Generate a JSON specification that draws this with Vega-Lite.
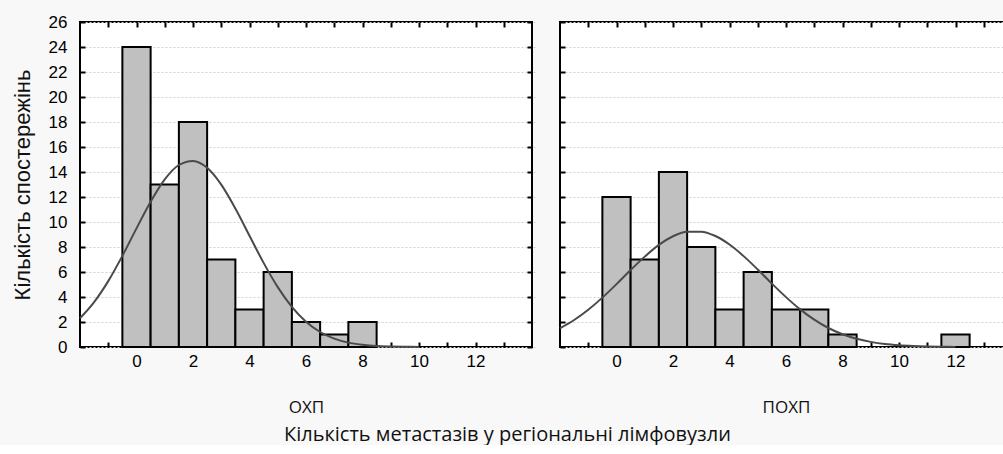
{
  "$schema": "https://vega.github.io/schema/vega-lite/v6.json",
  "padding": {"left": 10, "top": 12, "right": 0, "bottom": 0},
  "background": "#f8f8f8",
  "bounds": "flush",
  "spacing": 28,
  "datasets": {
    "bars": [
      {"panel": "ОХП", "lo": -0.5, "hi": 0.5, "count": 24},
      {"panel": "ОХП", "lo": 0.5, "hi": 1.5, "count": 13},
      {"panel": "ОХП", "lo": 1.5, "hi": 2.5, "count": 18},
      {"panel": "ОХП", "lo": 2.5, "hi": 3.5, "count": 7},
      {"panel": "ОХП", "lo": 3.5, "hi": 4.5, "count": 3},
      {"panel": "ОХП", "lo": 4.5, "hi": 5.5, "count": 6},
      {"panel": "ОХП", "lo": 5.5, "hi": 6.5, "count": 2},
      {"panel": "ОХП", "lo": 6.5, "hi": 7.5, "count": 1},
      {"panel": "ОХП", "lo": 7.5, "hi": 8.5, "count": 2},
      {"panel": "ПОХП", "lo": -0.5, "hi": 0.5, "count": 12},
      {"panel": "ПОХП", "lo": 0.5, "hi": 1.5, "count": 7},
      {"panel": "ПОХП", "lo": 1.5, "hi": 2.5, "count": 14},
      {"panel": "ПОХП", "lo": 2.5, "hi": 3.5, "count": 8},
      {"panel": "ПОХП", "lo": 3.5, "hi": 4.5, "count": 3},
      {"panel": "ПОХП", "lo": 4.5, "hi": 5.5, "count": 6},
      {"panel": "ПОХП", "lo": 5.5, "hi": 6.5, "count": 3},
      {"panel": "ПОХП", "lo": 6.5, "hi": 7.5, "count": 3},
      {"panel": "ПОХП", "lo": 7.5, "hi": 8.5, "count": 1},
      {"panel": "ПОХП", "lo": 11.5, "hi": 12.5, "count": 1}
    ],
    "curve": [
      {"panel": "ОХП", "x": -2, "y": 2.30},
      {"panel": "ОХП", "x": -1.5, "y": 3.59},
      {"panel": "ОХП", "x": -1, "y": 5.27},
      {"panel": "ОХП", "x": -0.5, "y": 7.29},
      {"panel": "ОХП", "x": 0, "y": 9.49},
      {"panel": "ОХП", "x": 0.5, "y": 11.62},
      {"panel": "ОХП", "x": 1, "y": 13.41},
      {"panel": "ОХП", "x": 1.5, "y": 14.56},
      {"panel": "ОХП", "x": 2, "y": 14.89},
      {"panel": "ОХП", "x": 2.5, "y": 14.34},
      {"panel": "ОХП", "x": 3, "y": 12.99},
      {"panel": "ОХП", "x": 3.5, "y": 11.08},
      {"panel": "ОХП", "x": 4, "y": 8.90},
      {"panel": "ОХП", "x": 4.5, "y": 6.73},
      {"panel": "ОХП", "x": 5, "y": 4.79},
      {"panel": "ОХП", "x": 5.5, "y": 3.21},
      {"panel": "ОХП", "x": 6, "y": 2.02},
      {"panel": "ОХП", "x": 6.5, "y": 1.20},
      {"panel": "ОХП", "x": 7, "y": 0.67},
      {"panel": "ОХП", "x": 7.5, "y": 0.35},
      {"panel": "ОХП", "x": 8, "y": 0.18},
      {"panel": "ОХП", "x": 8.5, "y": 0.08},
      {"panel": "ОХП", "x": 9, "y": 0.04},
      {"panel": "ОХП", "x": 9.5, "y": 0.02},
      {"panel": "ОХП", "x": 10, "y": 0.01},
      {"panel": "ПОХП", "x": -2, "y": 1.50},
      {"panel": "ПОХП", "x": -1.5, "y": 2.16},
      {"panel": "ПОХП", "x": -1, "y": 2.98},
      {"panel": "ПОХП", "x": -0.5, "y": 3.95},
      {"panel": "ПОХП", "x": 0, "y": 5.03},
      {"panel": "ПОХП", "x": 0.5, "y": 6.16},
      {"panel": "ПОХП", "x": 1, "y": 7.23},
      {"panel": "ПОХП", "x": 1.5, "y": 8.17},
      {"panel": "ПОХП", "x": 2, "y": 8.86},
      {"panel": "ПОХП", "x": 2.5, "y": 9.23},
      {"panel": "ПОХП", "x": 3, "y": 9.23},
      {"panel": "ПОХП", "x": 3.5, "y": 8.88},
      {"panel": "ПОХП", "x": 4, "y": 8.20},
      {"panel": "ПОХП", "x": 4.5, "y": 7.27},
      {"panel": "ПОХП", "x": 5, "y": 6.20},
      {"panel": "ПОХП", "x": 5.5, "y": 5.07},
      {"panel": "ПОХП", "x": 6, "y": 3.99},
      {"panel": "ПОХП", "x": 6.5, "y": 3.01},
      {"panel": "ПОХП", "x": 7, "y": 2.19},
      {"panel": "ПОХП", "x": 7.5, "y": 1.52},
      {"panel": "ПОХП", "x": 8, "y": 1.02},
      {"panel": "ПОХП", "x": 8.5, "y": 0.66},
      {"panel": "ПОХП", "x": 9, "y": 0.41},
      {"panel": "ПОХП", "x": 9.5, "y": 0.24},
      {"panel": "ПОХП", "x": 10, "y": 0.14},
      {"panel": "ПОХП", "x": 10.5, "y": 0.08},
      {"panel": "ПОХП", "x": 11, "y": 0.04},
      {"panel": "ПОХП", "x": 11.5, "y": 0.02},
      {"panel": "ПОХП", "x": 12, "y": 0.01}
    ]
  },
  "title": {
    "text": "Кількість метастазів у регіональні лімфовузли",
    "orient": "bottom",
    "anchor": "start",
    "frame": "group",
    "dx": 204,
    "offset": 9,
    "font": "Open Sans",
    "fontSize": 20,
    "fontWeight": "normal",
    "color": "#111"
  },
  "config": {
    "font": "Liberation Sans",
    "view": {"stroke": "black", "strokeWidth": 2, "fill": "white"},
    "axis": {
      "domain": false,
      "ticks": true,
      "tickColor": "black",
      "tickWidth": 2,
      "tickSize": 5,
      "offset": -5,
      "labelFont": "Liberation Sans",
      "labelFontSize": 17,
      "labelColor": "black",
      "labelOverlap": false,
      "labelFlush": false,
      "titleFont": "Open Sans",
      "titleFontWeight": "normal",
      "titleColor": "#111"
    }
  },
  "hconcat": [
    {
      "width": 452,
      "height": 325,
      "layer": [
        {
          "data": {"name": "bars"},
          "transform": [{"filter": "datum.panel == 'ОХП'"}],
          "mark": {"type": "bar", "fill": "#c0c0c0", "stroke": "black", "strokeWidth": 2},
          "encoding": {
            "x": {"field": "lo", "type": "quantitative",
              "scale": {"domain": [-2, 14], "nice": false, "zero": false},
              "axis": {"orient": "bottom", "values": [-1,0,1,2,3,4,5,6,7,8,9,10,11,12,13],
                "labelExpr": "datum.value >= 0 && datum.value % 2 == 0 ? datum.label : ''",
                "labelPadding": 6, "grid": false, "title": "ОХП", "titleFontSize": 17, "titlePadding": 30}},
            "x2": {"field": "hi"},
            "y": {"field": "count", "type": "quantitative",
              "scale": {"domain": [0, 26], "nice": false},
              "axis": {"orient": "left", "values": [0,2,4,6,8,10,12,14,16,18,20,22,24,26],
                "labelPadding": 13, "grid": true, "gridColor": "#d0d0d0", "gridDash": [2, 2], "gridWidth": 1,
                "title": "Кількість спостережінь", "titleFont": "Liberation Sans", "titleFontSize": 22, "titlePadding": 14}},
            "y2": {"datum": 0}
          }
        },
        {
          "data": {"name": "curve"},
          "transform": [{"filter": "datum.panel == 'ОХП'"}],
          "mark": {"type": "line", "color": "#4a4a4a", "strokeWidth": 2, "interpolate": "monotone"},
          "encoding": {
            "x": {"field": "x", "type": "quantitative",
              "axis": {"orient": "top", "values": [-1,0,1,2,3,4,5,6,7,8,9,10,11,12,13], "labels": false, "grid": false, "title": null}},
            "y": {"field": "y", "type": "quantitative",
              "axis": {"orient": "right", "values": [0,2,4,6,8,10,12,14,16,18,20,22,24,26], "labels": false, "grid": false, "title": null}}
          }
        }
      ],
      "resolve": {"axis": {"x": "independent", "y": "independent"}}
    },
    {
      "width": 452,
      "height": 325,
      "layer": [
        {
          "data": {"name": "bars"},
          "transform": [{"filter": "datum.panel == 'ПОХП'"}],
          "mark": {"type": "bar", "fill": "#c0c0c0", "stroke": "black", "strokeWidth": 2},
          "encoding": {
            "x": {"field": "lo", "type": "quantitative",
              "scale": {"domain": [-2, 14], "nice": false, "zero": false},
              "axis": {"orient": "bottom", "values": [-1,0,1,2,3,4,5,6,7,8,9,10,11,12,13],
                "labelExpr": "datum.value >= 0 && datum.value % 2 == 0 ? datum.label : ''",
                "labelPadding": 6, "grid": false, "title": "ПОХП", "titleFontSize": 17, "titlePadding": 30}},
            "x2": {"field": "hi"},
            "y": {"field": "count", "type": "quantitative",
              "scale": {"domain": [0, 26], "nice": false},
              "axis": {"orient": "left", "values": [0,2,4,6,8,10,12,14,16,18,20,22,24,26],
                "labels": false, "grid": true, "gridColor": "#d0d0d0", "gridDash": [2, 2], "gridWidth": 1, "title": null}},
            "y2": {"datum": 0}
          }
        },
        {
          "data": {"name": "curve"},
          "transform": [{"filter": "datum.panel == 'ПОХП'"}],
          "mark": {"type": "line", "color": "#4a4a4a", "strokeWidth": 2, "interpolate": "monotone"},
          "encoding": {
            "x": {"field": "x", "type": "quantitative",
              "axis": {"orient": "top", "values": [-1,0,1,2,3,4,5,6,7,8,9,10,11,12,13], "labels": false, "grid": false, "title": null}},
            "y": {"field": "y", "type": "quantitative",
              "axis": {"orient": "right", "values": [0,2,4,6,8,10,12,14,16,18,20,22,24,26], "labels": false, "grid": false, "title": null}}
          }
        }
      ],
      "resolve": {"axis": {"x": "independent", "y": "independent"}}
    }
  ]
}
